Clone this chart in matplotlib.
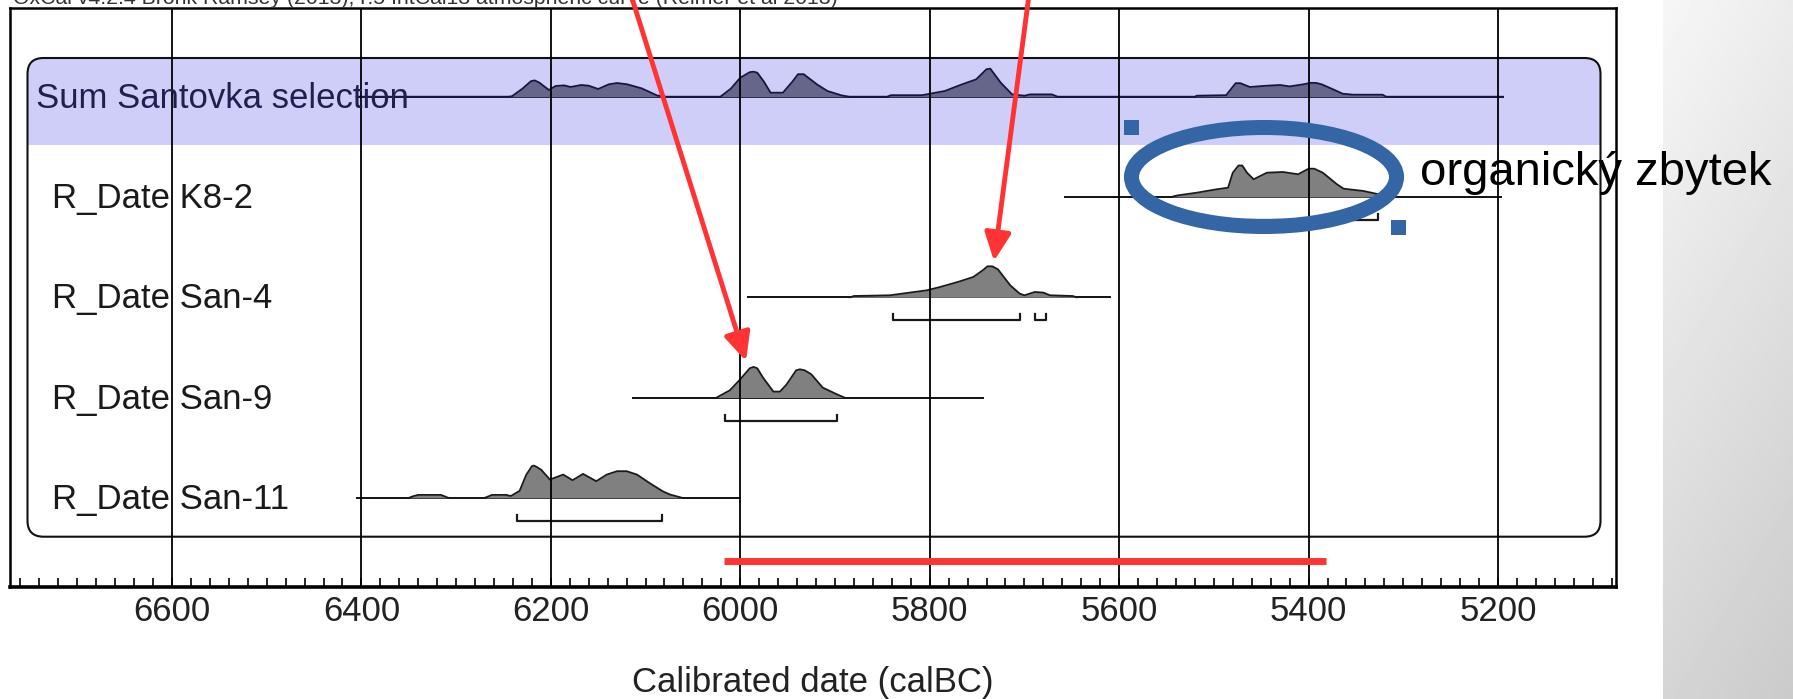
import numpy as np
import matplotlib
matplotlib.use("Agg")
import matplotlib.pyplot as plt
import matplotlib.transforms as mtransforms
from matplotlib.patches import FancyBboxPatch, Rectangle, Ellipse, FancyArrowPatch, ArrowStyle
from matplotlib.ticker import MultipleLocator

plt.rcParams['font.family'] = ['Liberation Sans', 'DejaVu Sans']

# --- data (years calBC, relative probability) ---
row_labels = ['Sum Santovka selection', 'R_Date K8-2', 'R_Date San-4',
              'R_Date San-9', 'R_Date San-11']

# full calibration range drawn as the thin line under each curve
row_ranges = [(6405, 5195), (5657, 5197), (5992, 5610), (6113, 5744), (6405, 6000)]

sum_years = [6405, 6245, 6241, 6230, 6221, 6217, 6212, 6202, 6195, 6186, 6179, 6168,
             6160, 6150, 6139, 6130, 6119, 6104, 6088, 6080, 6021, 6010, 6000, 5990,
             5986, 5982, 5975, 5968, 5955, 5945, 5939, 5933, 5919, 5908, 5893, 5885,
             5845, 5841, 5808, 5784, 5766, 5751, 5740, 5736, 5725, 5713, 5700, 5694,
             5671, 5665, 5520, 5518, 5487, 5477, 5472, 5462, 5444, 5430, 5420, 5406,
             5398, 5392, 5386, 5374, 5364, 5353, 5322, 5318, 5195]
sum_prob = [0, 0, 0.5, 8, 15.5, 16.3, 14, 6.7, 10.7, 11.3, 9.7, 11.7,
            11, 7.7, 12.3, 13.7, 12.3, 8.3, 1.3, 0, 0, 8, 19, 24.5,
            25, 24, 15, 4, 4, 15, 22.5, 22.5, 12.3, 5.7, 1.3, 0,
            0, 1.5, 1.5, 5.7, 12.3, 17.3, 27.5, 28, 14, 2.3, 1, 2.3,
            2.3, 0, 0, 1, 1.5, 13.5, 13.5, 9.7, 11, 11.7, 10.3, 12.3,
            13.8, 13.8, 12.3, 7.3, 3, 2, 2, 0, 0]

k82_years = [5545, 5539, 5518, 5497, 5485, 5480, 5474, 5470, 5465, 5458, 5444, 5427,
             5411, 5400, 5394, 5385, 5370, 5363, 5342, 5326, 5321]
k82_prob = [0, 1.5, 4.3, 7.7, 9.3, 24.3, 31.5, 31.5, 24.3, 17.7, 24.3, 25,
            22.7, 28.3, 28.3, 24.3, 12.7, 8.3, 6, 2.7, 0]

san4_years = [5884, 5880, 5842, 5821, 5803, 5789, 5768, 5754, 5744, 5739, 5734, 5728,
              5715, 5705, 5700, 5689, 5680, 5673, 5649, 5645]
san4_prob = [0, 1.3, 2, 4.7, 7, 10.3, 16, 20.3, 27, 31, 31, 28,
             12, 3.7, 2, 5.3, 4.7, 2, 1.3, 0]

san9_years = [6025, 6011, 6000, 5990, 5986, 5982, 5976, 5965, 5958, 5951, 5941, 5937,
              5932, 5925, 5913, 5898, 5890]
san9_prob = [0, 7.3, 18.3, 29.3, 30.7, 29.3, 20, 6, 6, 13.3, 27.3, 28.3,
             27.3, 23.3, 10, 3.3, 0]

san11_years = [6350, 6346, 6340, 6316, 6312, 6308, 6270, 6266, 6262, 6247, 6243, 6242,
               6233, 6226, 6220, 6218, 6215, 6210, 6201, 6187, 6177, 6166, 6152, 6141,
               6130, 6120, 6109, 6096, 6082, 6074, 6061]
san11_prob = [0, 1.5, 3, 3, 1.5, 0, 0, 1.5, 3, 3, 2, 2,
              7, 23, 31.7, 32.3, 31, 28, 18.3, 23.3, 17.7, 24, 16.7, 23.3,
              26.7, 26.7, 23.3, 15, 6.7, 3.3, 0]

# 95.4 % ranges (brackets under the curves)
k82_ranges = [(5535, 5327)]
san4_ranges = [(5839, 5705), (5689, 5677)]
san9_ranges = [(6016, 5898)]
san11_ranges = [(6236, 6083)]

curves = [(sum_years, sum_prob, []),
          (k82_years, k82_prob, k82_ranges),
          (san4_years, san4_prob, san4_ranges),
          (san9_years, san9_prob, san9_ranges),
          (san11_years, san11_prob, san11_ranges)]

major_ticks = [6600, 6400, 6200, 6000, 5800, 5600, 5400, 5200]
header = 'OxCal v4.2.4 Bronk Ramsey (2013); r:5 IntCal13 atmospheric curve (Reimer et al 2013)'
note = 'organický zbytek'

# --- figure ---
W, H = 1793, 699
fig = plt.figure(figsize=(W / 100, H / 100), dpi=100)
fig.patch.set_facecolor('white')
# pixel coordinates (origin top-left)
px = mtransforms.Affine2D().scale(1 / W, -1 / H).translate(0, 1) + fig.transFigure

ax = fig.add_axes([10 / W, (H - 587) / H, (1616.4 - 10) / W, (587 - 8) / H])
ax.set_xlim(6771, 5075)
ax.set_ylim(587, 8)
ax.set_yticks([])

row0, row_step = 96.7, 100.3

# rounded inner box + lavender band for the Sum row
box = FancyBboxPatch((27.5, 58), 1573, 478.7, boxstyle='round,pad=0,rounding_size=16',
                     transform=px, fill=False, ec='#111111', lw=1.5, zorder=1.5)
ax.add_patch(box)
band = Rectangle((27.5, 58), 1573, 87, transform=px, fc='#CECEF8', ec='none', zorder=0.5)
ax.add_patch(band)
band.set_clip_path(box)

for i, (lab, (r0, r1), (yrs, prob, rngs)) in enumerate(zip(row_labels, row_ranges, curves)):
    base = row0 + i * row_step
    yrs = np.array(yrs)
    top = base - np.array(prob)
    if i == 0:
        line_c, fill_c, edge_c, txt_c, lx = '#1A1A3A', '#66668A', '#15153F', '#202050', 35.6
    else:
        line_c, fill_c, edge_c, txt_c, lx = '#111111', '#808080', '#1A1A1A', '#1A1A1A', 51.7
    ax.plot([r0, r1], [base, base], color=line_c, lw=1.4, zorder=2)
    ax.fill_between(yrs, base, top, color=fill_c, lw=0, zorder=3)
    ax.plot(yrs, top, color=edge_c, lw=1.3, zorder=3.2, solid_joinstyle='round')
    for a, b in rngs:
        ax.plot([a, a, b, b], [base + 17, base + 23, base + 23, base + 17],
                color='#1A1A1A', lw=1.6, zorder=3)
    ax.text(lx, base + 11, lab, transform=px, fontsize=25, color=txt_c,
            va='baseline', ha='left', zorder=5)

for t in major_ticks:
    ax.axvline(t, color='black', lw=1.3, zorder=4)

ax.set_xticks(major_ticks)
ax.set_xticklabels([str(t) for t in major_ticks])
ax.xaxis.set_minor_locator(MultipleLocator(20))
ax.tick_params(axis='x', which='both', direction='in', length=6.5, width=1.2,
               top=False, color='black')
ax.tick_params(axis='x', which='major', labelsize=25, pad=5.5, labelcolor='#222222')
ax.tick_params(axis='y', left=False, right=False)
for s in ['left', 'right', 'top']:
    ax.spines[s].set_linewidth(1.8)
ax.spines['bottom'].set_linewidth(2.6)

ax.set_xlabel('Calibrated date (calBC)', fontsize=25, color='#222222')
ax.xaxis.label.set_va('baseline')
ax.xaxis.set_label_coords(0.5, (587 - 691.7) / (587 - 8))

# --- overlay annotations (slide markup) ---
ov = fig.add_axes([0, 0, 1, 1], zorder=10)
ov.set_xlim(0, W)
ov.set_ylim(H, 0)
ov.axis('off')
ov.patch.set_alpha(0)

# grey side panel
gy, gx = np.mgrid[0:1:60j, 0:1:20j]
grad = 0.965 - 0.13 * gy - 0.04 * gx
ov.imshow(grad, cmap='gray', vmin=0, vmax=1, extent=[1663, W, H, 0],
          aspect='auto', interpolation='bilinear', zorder=0)

ov.text(13, 4.5, header, fontsize=15.3, color='#333333', va='baseline', ha='left')

red = '#FF3333'
for (x0, y0), (x1, y1) in [((631, -5), (746, 361)), ((1029, -5), (994, 261))]:
    arr = FancyArrowPatch((x0, y0), (x1, y1),
                          arrowstyle=ArrowStyle('-|>', head_length=17, head_width=8),
                          mutation_scale=1, color=red, lw=3.5, shrinkA=0, shrinkB=0,
                          zorder=5)
    ov.add_patch(arr)
ov.plot([724, 1326], [561, 561], color=red, lw=5, solid_capstyle='butt', zorder=5)

blue = '#3465A4'
ov.add_patch(Ellipse((1264, 177), 265, 99, fill=False, ec=blue, lw=10.8, zorder=6))
ov.add_patch(Rectangle((1124, 120), 15, 15, fc=blue, ec='none', zorder=6))
ov.add_patch(Rectangle((1391, 220), 15, 15, fc=blue, ec='none', zorder=6))
ov.text(1420, 185, note, fontsize=34, color='black', va='baseline', ha='left', zorder=7)

fig.savefig('out.png', dpi=100)
